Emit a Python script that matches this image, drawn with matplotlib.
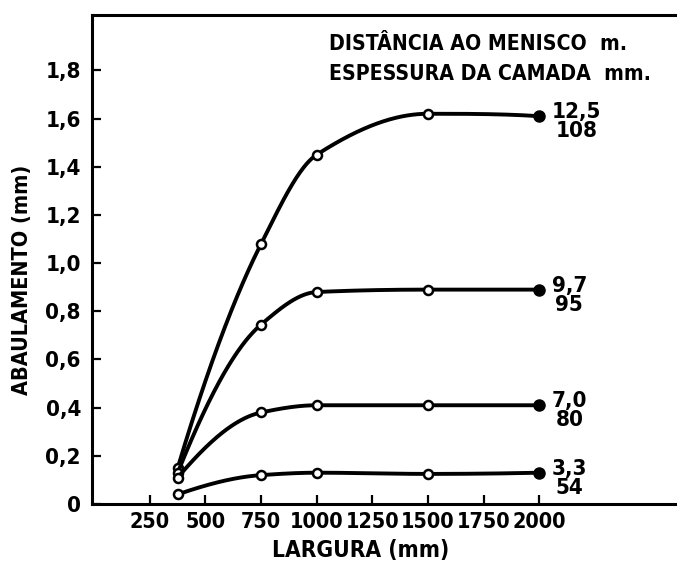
import matplotlib
matplotlib.use("Agg")
import matplotlib.pyplot as plt
import numpy as np

plt.rcParams["font.family"] = ["DejaVu Sans"]
plt.rcParams["font.stretch"] = "condensed"
plt.rcParams["font.weight"] = "bold"

# largura (mm) at which each curve was measured
largura = [375, 750, 1000, 1500, 2000]

# abaulamento (mm) for each pair distancia / espessura
ab_12_5 = [0.15, 1.08, 1.45, 1.62, 1.61]
ab_9_7 = [0.13, 0.745, 0.88, 0.89, 0.89]
ab_7_0 = [0.11, 0.38, 0.41, 0.41, 0.41]
ab_3_3 = [0.04, 0.12, 0.13, 0.125, 0.13]

curve_labels = ["12,5\n108", "9,7\n95", "7,0\n80", "3,3\n54"]

x_ticks = [250, 500, 750, 1000, 1250, 1500, 1750, 2000]
y_ticks = [0, 0.2, 0.4, 0.6, 0.8, 1.0, 1.2, 1.4, 1.6, 1.8]
y_ticklabels = ["0", "0,2", "0,4", "0,6", "0,8", "1,0", "1,2", "1,4", "1,6", "1,8"]


def pchip(x, y, xs):
    # monotone cubic through the measured points (Fritsch-Carlson)
    x = np.asarray(x, float)
    y = np.asarray(y, float)
    h = np.diff(x)
    d = np.diff(y) / h
    m = np.zeros_like(y)
    for k in range(1, len(x) - 1):
        if d[k - 1] * d[k] > 0:
            w1 = 2 * h[k] + h[k - 1]
            w2 = h[k] + 2 * h[k - 1]
            m[k] = (w1 + w2) / (w1 / d[k - 1] + w2 / d[k])
    for k, j, dk in [(0, 1, d[0]), (-1, -2, d[-1])]:
        hk = h[0] if k == 0 else h[-1]
        hj = h[1] if k == 0 else h[-2]
        dj = d[1] if k == 0 else d[-2]
        e = ((2 * hk + hj) * dk - hk * dj) / (hk + hj)
        if e * dk <= 0:
            e = 0.0
        elif dk * dj < 0 and abs(e) > 3 * abs(dk):
            e = 3 * dk
        m[k] = e
    idx = np.clip(np.searchsorted(x, xs) - 1, 0, len(x) - 2)
    t = (xs - x[idx]) / h[idx]
    h00 = 2 * t**3 - 3 * t**2 + 1
    h10 = t**3 - 2 * t**2 + t
    h01 = -2 * t**3 + 3 * t**2
    h11 = t**3 - t**2
    return (h00 * y[idx] + h10 * h[idx] * m[idx]
            + h01 * y[idx + 1] + h11 * h[idx] * m[idx + 1])


fig = plt.figure(figsize=(6.77, 5.66), dpi=100)
ax = fig.add_axes([0.136, 0.1095, 0.864, 0.864])

xs = np.linspace(largura[0], largura[-1], 400)
for ys, lab in zip([ab_12_5, ab_9_7, ab_7_0, ab_3_3], curve_labels):
    ax.plot(xs, pchip(largura, ys, xs), color="black", lw=2.8,
            solid_capstyle="round")
    ax.plot(largura[:-1], ys[:-1], "o", ms=6.5, mfc="white", mec="black",
            mew=1.8)
    ax.plot(largura[-1], ys[-1], "o", ms=8, color="black")
    ax.annotate(lab, (largura[-1], ys[-1]), xytext=(9, -4),
                textcoords="offset points", ha="left", va="center",
                multialignment="center", fontsize=16, linespacing=0.95)

ax.set_xlim(-10, 2620)
ax.set_ylim(0, 2.03)
ax.set_xticks(x_ticks)
ax.set_xticklabels([str(v) for v in x_ticks], fontsize=15.5)
ax.set_yticks(y_ticks)
ax.set_yticklabels(y_ticklabels, fontsize=16)
ax.tick_params(direction="in", length=6.5, width=1.6, pad=6)
ax.tick_params(axis="y", pad=8)

for side in ["left", "bottom", "top"]:
    ax.spines[side].set_linewidth(2.2)
ax.spines["right"].set_visible(False)

ax.text(0.405, 0.94, "DISTÂNCIA AO MENISCO  m.", transform=ax.transAxes,
        fontsize=15.2, ha="left", va="center")
ax.text(0.405, 0.88, "ESPESSURA DA CAMADA  mm.", transform=ax.transAxes,
        fontsize=15.2, ha="left", va="center")

fig.text(0.033, 0.505, "ABAULAMENTO (mm)", rotation=90, fontsize=15.5,
         ha="center", va="center")
fig.text(0.532, 0.028, "LARGURA (mm)", fontsize=16.3, ha="center",
         va="center")

fig.savefig("out.png", dpi=100)
